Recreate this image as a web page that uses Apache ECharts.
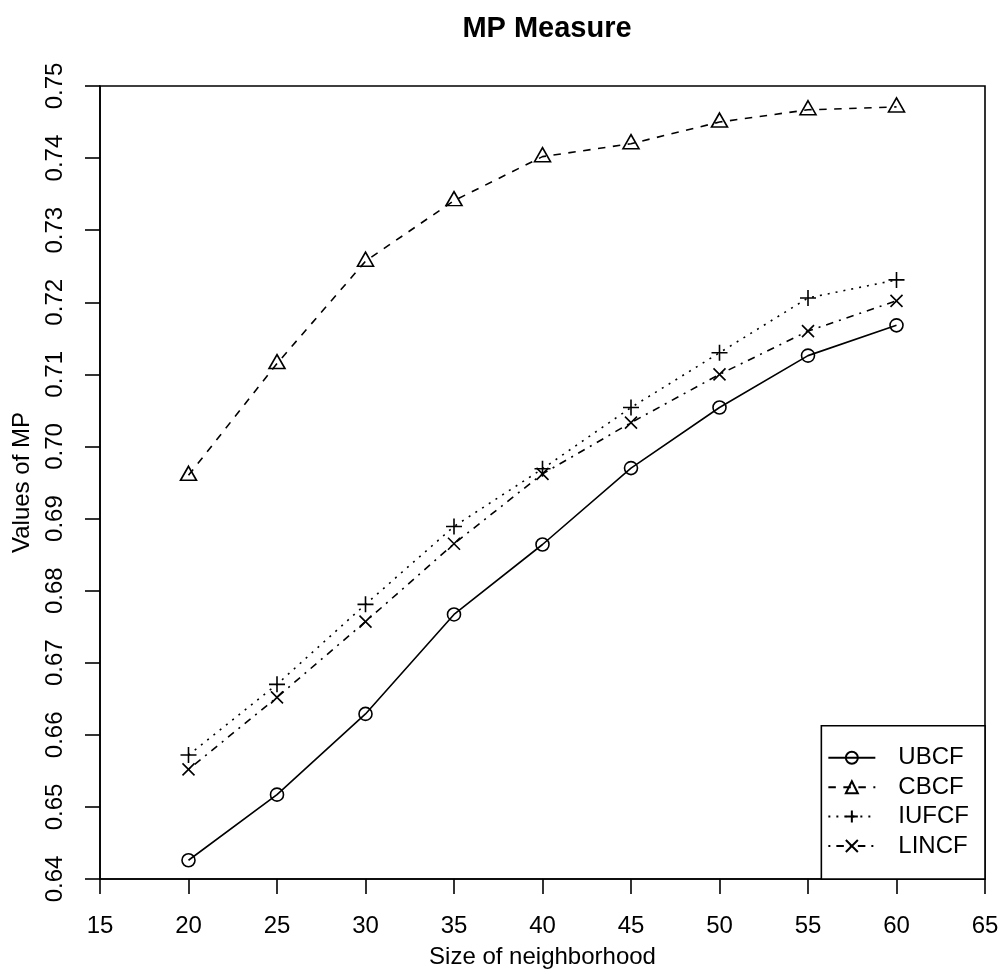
<!DOCTYPE html>
<html>
<head>
<meta charset="utf-8">
<script src="https://cdn.jsdelivr.net/npm/echarts@6/dist/echarts.min.js"></script>
<style>
  html, body { margin: 0; padding: 0; background: #fff; }
  #chart { width: 1003px; height: 974px; }
</style>
</head>
<body>
<div id="chart"></div>
<script>
// Neighborhood sizes and MP values for each method
const sizes = [20, 25, 30, 35, 40, 45, 50, 55, 60];
const ubcf  = [0.6426, 0.6517, 0.6629, 0.6767, 0.6864, 0.6970, 0.7054, 0.7126, 0.7168];
const cbcf  = [0.6960, 0.7115, 0.7257, 0.7341, 0.7402, 0.7420, 0.7450, 0.7467, 0.7471];
const iufcf = [0.6572, 0.6670, 0.6781, 0.6889, 0.6969, 0.7054, 0.7130, 0.7206, 0.7231];
const lincf = [0.6552, 0.6652, 0.6757, 0.6865, 0.6962, 0.7033, 0.7100, 0.7160, 0.7202];

// Axis tick values
const xTicks = [15, 20, 25, 30, 35, 40, 45, 50, 55, 60, 65];
const yTicks = [0.64, 0.65, 0.66, 0.67, 0.68, 0.69, 0.70, 0.71, 0.72, 0.73, 0.74, 0.75];

const FONT = 'Liberation Sans, Arial, Helvetica, sans-serif';
const FS = 24;
const LW = 1.6;

function pairs(vals) { return sizes.map((s, i) => [s, vals[i]]); }

function makeSeries(name, vals, symbol, symbolSize, dash, offset) {
  return {
    name: name,
    type: 'line',
    data: pairs(vals),
    symbol: symbol,
    symbolSize: symbolSize,
    symbolOffset: offset || [0, 0],
    showAllSymbol: true,
    animation: false,
    lineStyle: { color: '#000', width: LW, type: dash },
    itemStyle: { color: 'rgba(0,0,0,0)', borderColor: '#000', borderWidth: LW },
    emphasis: { disabled: true }
  };
}

const chart = echarts.init(document.getElementById('chart'), null, { renderer: 'canvas' });

const axisCommon = {
  axisLine: { show: true, lineStyle: { color: '#000', width: LW } },
  axisTick: { show: true, inside: false, length: 15, lineStyle: { color: '#000', width: LW } },
  splitLine: { show: false },
  nameTextStyle: { color: '#000', fontSize: FS, fontFamily: FONT },
};

chart.setOption({
  backgroundColor: '#fff',
  animation: false,
  title: {
    text: 'MP Measure',
    left: 542,
    top: 9,
    textAlign: 'center',
    textStyle: { color: '#000', fontSize: 29, fontWeight: 'bold', fontFamily: FONT }
  },
  grid: {
    left: 100, right: 18, top: 86, bottom: 95,
    show: true, borderColor: '#000', borderWidth: LW, backgroundColor: 'transparent'
  },
  xAxis: Object.assign({}, axisCommon, {
    type: 'value',
    min: xTicks[0],
    max: xTicks[xTicks.length - 1],
    interval: xTicks[1] - xTicks[0],
    name: 'Size of neighborhood',
    nameLocation: 'middle',
    nameGap: 66,
    axisLabel: { color: '#000', fontSize: FS, fontFamily: FONT, margin: 35,
                 showMinLabel: true, showMaxLabel: true }
  }),
  yAxis: Object.assign({}, axisCommon, {
    type: 'value',
    min: yTicks[0],
    max: yTicks[yTicks.length - 1],
    interval: 0.01,
    name: 'Values of MP',
    nameLocation: 'middle',
    nameRotate: 90,
    nameGap: 66,
    axisLabel: { color: '#000', fontSize: FS, fontFamily: FONT, margin: 33, rotate: 90,
                 showMinLabel: true, showMaxLabel: true,
                 formatter: v => v.toFixed(2) }
  }),
  legend: {
    orient: 'vertical',
    right: 18,
    bottom: 95,
    padding: [20, 16, 21, 6],
    itemWidth: 47,
    itemHeight: 15,
    itemGap: 5.4,
    borderColor: '#000',
    borderWidth: LW,
    backgroundColor: '#fff',
    selectedMode: false,
    textStyle: { color: '#000', fontSize: FS, lineHeight: 24, fontFamily: FONT, padding: [0, 0, 0, 18] },
    data: ['UBCF', 'CBCF', 'IUFCF', 'LINCF']
  },
  series: [
    makeSeries('UBCF', ubcf, 'circle', 13, 'solid'),
    makeSeries('CBCF', cbcf, 'triangle', [16, 14], [7.5, 7.5], [0, -2]),
    makeSeries('IUFCF', iufcf, 'path://M0,8L16,8M8,0L8,16', 16, [2, 6]),
    makeSeries('LINCF', lincf, 'path://M0,0L12,12M12,0L0,12', 12, [2, 6, 7.5, 6])
  ]
});
</script>
</body>
</html>
